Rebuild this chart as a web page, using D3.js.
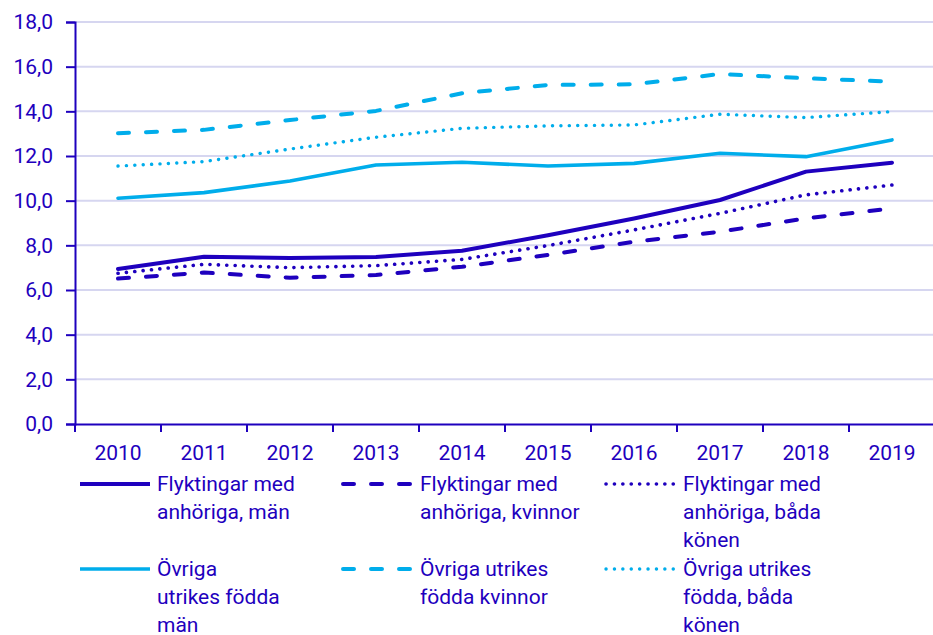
<!DOCTYPE html>
<html><head><meta charset="utf-8">
<script src="https://cdn.jsdelivr.net/npm/d3@7"></script>
<style>body{margin:0;background:#fff;} text{font-family:Roboto,"Noto Sans",sans-serif;}</style>
</head><body>
<svg id="c" width="933" height="635"></svg>
<script>
const years = ["2010","2011","2012","2013","2014","2015","2016","2017","2018","2019"];
const yTicks = [0,2,4,6,8,10,12,14,16,18];
const seriesNames = [
  ["Flyktingar med","anhöriga, män"],
  ["Flyktingar med","anhöriga, kvinnor"],
  ["Flyktingar med","anhöriga, båda","könen"],
  ["Övriga","utrikes födda","män"],
  ["Övriga utrikes","födda kvinnor"],
  ["Övriga utrikes","födda, båda","könen"]
];
const flyktMan    = [6.94,7.49,7.43,7.48,7.76,8.45,9.2,10.03,11.3,11.7];
const flyktKvinna = [6.51,6.78,6.55,6.67,7.04,7.57,8.16,8.61,9.21,9.65];
const flyktBada   = [6.75,7.15,7.0,7.09,7.37,7.99,8.69,9.43,10.26,10.7];
const ovrigaMan   = [10.11,10.36,10.88,11.6,11.72,11.55,11.67,12.12,11.97,12.72];
const ovrigaKvinna= [13.02,13.17,13.61,14.02,14.81,15.18,15.21,15.67,15.48,15.33];
const ovrigaBada  = [11.55,11.75,12.31,12.84,13.24,13.35,13.39,13.87,13.72,13.99];
const seriesValues = [flyktMan, flyktKvinna, flyktBada, ovrigaMan, ovrigaKvinna, ovrigaBada];

(function(){
const DARK = "#1e00be", LIGHT = "#00adeb", GRID = "#d6d6f0";
const styles = [
  {color:DARK, dash:null, w:4},
  {color:DARK, dash:"11,17", w:4},
  {color:DARK, dash:"0.1,8.3", w:3.6},
  {color:LIGHT, dash:null, w:3.6},
  {color:LIGHT, dash:"11,17", w:4},
  {color:LIGHT, dash:"0.1,8.3", w:3.4}
];
const FS = "21px";

const svg = d3.select("#c");
const mL = 75, mR = 935, mT = 22, mB = 424;
const x = d3.scaleBand().domain(years).range([mL, mR]).padding(0);
const y = d3.scaleLinear().domain([0,18]).range([mB, mT]);

// grid
svg.append("g").selectAll("line").data(yTicks.filter(d=>d>0)).join("line")
  .attr("x1", mL).attr("x2", 933).attr("y1", d=>y(d)).attr("y2", d=>y(d))
  .attr("stroke", GRID).attr("stroke-width", 2);

// y axis
const yAxis = svg.append("g").attr("transform", `translate(${mL},0)`)
  .call(d3.axisLeft(y).tickValues(yTicks).tickSize(9).tickPadding(13)
    .tickFormat(d => d3.format(".1f")(d).replace(".", ",")));
yAxis.select(".domain").attr("stroke", DARK).attr("stroke-width", 2);
yAxis.selectAll(".tick line").attr("stroke", DARK).attr("stroke-width", 2);
yAxis.selectAll("text").attr("fill", DARK).style("font-size", FS).attr("font-family","Roboto");

// x axis
const xTickPositions = years.map(d => x(d)).concat([mR]);
const xAxis = svg.append("g").attr("transform", `translate(0,${mB})`)
  .call(d3.axisBottom(x).tickSize(0).tickPadding(21));
xAxis.select(".domain").attr("stroke", DARK).attr("stroke-width", 2);
xAxis.selectAll("text").attr("fill", DARK).style("font-size", FS).attr("font-family","Roboto");
svg.append("g").selectAll("line").data(xTickPositions).join("line")
  .attr("x1", d=>d).attr("x2", d=>d).attr("y1", mB).attr("y2", mB+8)
  .attr("stroke", DARK).attr("stroke-width", 2);

// lines
const line = d3.line().x((d,i)=>x(years[i]) + x.bandwidth()/2).y(d=>y(d));
seriesValues.forEach((vals, k) => {
  const s = styles[k];
  svg.append("path").datum(vals).attr("d", line)
    .attr("fill","none").attr("stroke", s.color).attr("stroke-width", s.w)
    .attr("stroke-linecap","round").attr("stroke-linejoin","round")
    .attr("stroke-dasharray", s.dash);
});

// legend
const colX = [80, 343, 606];
const rowY = [484, 569];
seriesNames.forEach((lines, k) => {
  const s = styles[k];
  const gx = colX[k % 3], gy = rowY[Math.floor(k/3)];
  const g = svg.append("g");
  g.append("line").attr("x1", gx).attr("x2", gx+70).attr("y1", gy).attr("y2", gy)
    .attr("stroke", s.color).attr("stroke-width", s.w)
    .attr("stroke-linecap", s.dash ? "round" : "butt")
    .attr("stroke-dasharray", s.dash);
  const t = g.append("text").attr("x", gx+77).attr("y", gy).attr("fill", DARK)
    .style("font-size", FS);
  lines.forEach((ln, i) => {
    t.append("tspan").attr("x", gx+77).attr("y", gy + i*28).attr("dy","0.35em").text(ln);
  });
});
})();
</script>
</body></html>
